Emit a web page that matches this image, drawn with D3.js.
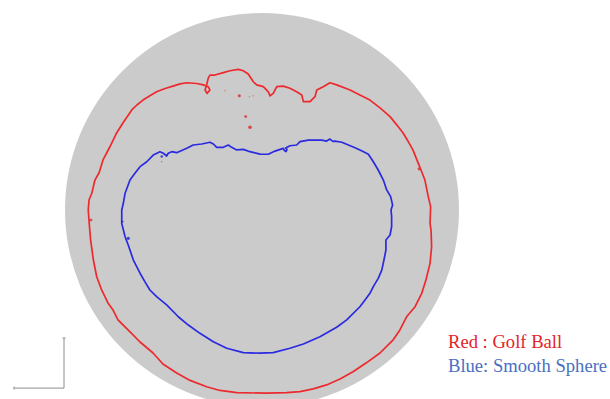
<!DOCTYPE html>
<html>
<head>
<meta charset="utf-8">
<script src="https://cdn.jsdelivr.net/npm/d3@7"></script>
<style>
  html, body { margin: 0; padding: 0; background: #ffffff; }
  svg { display: block; }
</style>
</head>
<body>
<svg id="chart" width="610" height="399"></svg>
<script>
// Cross-section coordinates, in percent of the ball radius, origin at the ball centre
// (x to the right, y upward).

// Golf ball separation contour (closed, clockwise from the left side)
const golfBallContour = [
  [-88.2, 0], [-87.8, 5.1], [-86.4, 8.5], [-84.8, 15.2], [-82.7, 18.9], [-80.7, 25.4],
  [-77.2, 32.1], [-73.8, 39.1], [-70.6, 44.2], [-66.1, 50.8], [-63.5, 53.3], [-60.4, 55.8],
  [-57.1, 57.9], [-53.5, 60.0], [-49.2, 61.7], [-45.2, 62.9], [-41.6, 64.0], [-38.2, 64.6],
  [-33.1, 64.2], [-29.8, 63.5], [-27.3, 62.6], [-26.4, 60.9],
  [-27.9, 59.2], [-28.9, 60.9], [-28.1, 63.5], [-27.3, 66.9], [-26.4, 68.5], [-23.9, 68.5],
  [-19.6, 69.7], [-16.2, 70.7], [-12.0, 71.4], [-9.5, 70.7], [-7.0, 69.0], [-4.4, 65.1],
  [-2.7, 63.5], [0.7, 62.6], [3.2, 60.0], [4.1, 57.9], [5.7, 59.2], [7.5, 62.6],
  [10.8, 62.9], [14.2, 61.8], [17.6, 60.0], [20.2, 58.4], [21.0, 55.0], [24.4, 55.0],
  [26.9, 57.5], [27.8, 60.9], [31.1, 62.6], [34.5, 64.6], [37.9, 63.5], [44.7, 60.9],
  [49.7, 58.4], [54.8, 55.8], [59.9, 51.8], [65.0, 47.4], [68.5, 43.1], [71.6, 39.1],
  [74.1, 35.0], [76.6, 30.5], [79.7, 22.8], [81.1, 19.3],
  [82.7, 15.2], [84.4, 6.8], [85.6, 1.7], [85.3, -6.8], [85.8, -10.2], [86.1, -18.6],
  [85.3, -27.1], [83.2, -35.5], [81.1, -42.3], [77.7, -49.1], [73.4, -54.2], [70.0, -60.9],
  [66.6, -65.9], [59.9, -72.6], [52.8, -77.7], [46.2, -82.1], [39.6, -85.8], [32.8, -88.8],
  [26.0, -90.8], [19.3, -92.2], [12.4, -92.7], [2.4, -93.0], [-12.8, -92.7], [-21.3, -91.6],
  [-28.1, -89.7], [-36.5, -86.5], [-43.3, -82.7], [-50.3, -78.2], [-55.3, -72.6], [-61.9, -67.0],
  [-68.0, -60.9], [-73.1, -55.8], [-75.6, -50.8], [-78.2, -47.2], [-81.4, -40.6], [-83.9, -33.9],
  [-85.6, -25.4], [-87.0, -15.2], [-87.7, -6.8]
];

// Isolated golf-ball fragments: [x, y, size]
const golfBallSpots = [
  [-18.8, 60.6, 0.6], [-11.5, 58.0, 1.1], [-6.4, 57.5, 0.6], [-4.4, 58.0, 0.6],
  [-8.3, 47.4, 1.0], [-6.1, 42.0, 1.3], [-86.8, -5.1, 1.0], [79.7, 20.8, 1.0]
];

// Smooth sphere separation contour (closed, clockwise from the left side)
const smoothSphereContour = [
  [-71.2, 0], [-70.4, 3.4], [-69.5, 8.5], [-67.0, 15.2], [-64.5, 18.6], [-61.9, 22.0],
  [-58.5, 24.5], [-55.2, 27.9], [-51.8, 29.6], [-50.1, 28.8], [-48.4, 27.4], [-47.6, 28.8],
  [-45.8, 29.6], [-43.3, 29.1], [-38.2, 31.3], [-34.9, 33.0], [-30.6, 33.5], [-26.4, 34.4],
  [-24.7, 33.5], [-23.0, 31.8], [-19.6, 31.8], [-17.1, 33.0], [-15.4, 31.8], [-12.8, 30.5],
  [-9.5, 30.8], [-6.1, 29.6], [-1.0, 28.4], [3.2, 28.3], [6.6, 29.9], [10.8, 31.3],
  [11.4, 30.2], [12.2, 29.7], [12.7, 30.7], [12.0, 31.5], [14.2, 32.6], [17.6, 33.0],
  [19.3, 34.7], [23.5, 35.5], [30.3, 35.5], [32.8, 35.0], [34.5, 36.0], [36.0, 34.8],
  [37.1, 35.0], [40.5, 34.4], [47.2, 31.6], [50.8, 29.9], [54.0, 28.3], [56.5, 24.5],
  [59.0, 20.3], [61.6, 15.2], [63.3, 10.2], [65.3, 6.8], [66.3, 2.5], [65.5, 0],
  [65.8, -3.4], [65.8, -8.5], [65.0, -12.7], [62.9, -15.2], [62.9, -20.3], [61.9, -25.4],
  [60.8, -30.5], [59.0, -34.7], [56.5, -38.9], [54.8, -42.3], [52.3, -45.7], [49.7, -49.1],
  [43.0, -55.8], [37.9, -59.5], [29.4, -64.3], [21.0, -68.0], [14.2, -70.2], [5.7, -72.4],
  [-1.0, -72.7], [-9.5, -72.4], [-17.9, -70.2], [-24.7, -66.9], [-31.5, -62.6], [-37.4, -58.4],
  [-42.5, -54.2], [-44.2, -52.4], [-48.4, -48.2], [-53.5, -44.0], [-56.9, -40.6], [-59.4, -36.5],
  [-61.9, -32.1], [-65.3, -25.4], [-67.9, -17.8], [-69.5, -13.6], [-71.2, -6.8]
];

// Isolated smooth-sphere fragments: [x, y, size]
const smoothSphereSpots = [
  [-50.9, 27.1, 0.9], [-50.9, 24.5, 0.5], [-70.7, -5.9, 0.7], [-67.9, -14.4, 1.2]
];

// Legend entries
const legendLabels = ["Red : Golf Ball", "Blue: Smooth Sphere"];
const legendColors = ["#e3242b", "#4a6fc2"];

const svg = d3.select("#chart");

const x = d3.scaleLinear().domain([-100, 100]).range([65, 459]);
const y = d3.scaleLinear().domain([-100, 100]).range([407, 13]);

// Ball cross-section
svg.append("circle")
  .attr("cx", x(0))
  .attr("cy", y(0))
  .attr("r", x(100) - x(0))
  .attr("fill", "#cbcbcb");

const line = d3.line()
  .x(d => x(d[0]))
  .y(d => y(d[1]))
  .curve(d3.curveLinearClosed);

svg.append("path")
  .datum(golfBallContour)
  .attr("d", line)
  .attr("fill", "none")
  .attr("stroke", "#ec2a2e")
  .attr("stroke-width", 1.7)
  .attr("stroke-linejoin", "round");

svg.selectAll("circle.gb-spot")
  .data(golfBallSpots)
  .join("circle")
  .attr("class", "gb-spot")
  .attr("cx", d => x(d[0]))
  .attr("cy", d => y(d[1]))
  .attr("r", d => d[2] * 1.4)
  .attr("fill", "#d83030")
  .attr("opacity", d => d[2] < 0.8 ? 0.4 : 0.85);

svg.append("path")
  .datum(smoothSphereContour)
  .attr("d", line)
  .attr("fill", "none")
  .attr("stroke", "#2a2ae0")
  .attr("stroke-width", 1.7)
  .attr("stroke-linejoin", "round");

svg.selectAll("circle.ss-spot")
  .data(smoothSphereSpots)
  .join("circle")
  .attr("class", "ss-spot")
  .attr("cx", d => x(d[0]))
  .attr("cy", d => y(d[1]))
  .attr("r", d => d[2] * 1.4)
  .attr("fill", "#2a2ad0")
  .attr("opacity", d => d[2] < 0.6 ? 0.5 : 0.85);

// Orientation glyph (x and y directions) at the lower left
const glyphOrigin = [x(-100.5), y(-90.4)];
const glyphLen = x(25.4) - x(0);
const glyph = svg.append("g").attr("stroke", "#8c8c8c").attr("stroke-width", 1);
glyph.append("line")
  .attr("x1", glyphOrigin[0]).attr("y1", glyphOrigin[1])
  .attr("x2", glyphOrigin[0]).attr("y2", glyphOrigin[1] - glyphLen);
glyph.append("line")
  .attr("x1", glyphOrigin[0]).attr("y1", glyphOrigin[1])
  .attr("x2", glyphOrigin[0] - glyphLen).attr("y2", glyphOrigin[1]);
glyph.append("line")
  .attr("x1", glyphOrigin[0] - 1.5).attr("y1", glyphOrigin[1] - glyphLen)
  .attr("x2", glyphOrigin[0] + 1.5).attr("y2", glyphOrigin[1] - glyphLen);
glyph.append("line")
  .attr("x1", glyphOrigin[0] - glyphLen).attr("y1", glyphOrigin[1] - 1.5)
  .attr("x2", glyphOrigin[0] - glyphLen).attr("y2", glyphOrigin[1] + 1.5);

// Legend
svg.selectAll("text.legend")
  .data(legendLabels)
  .join("text")
  .attr("class", "legend")
  .attr("x", 448)
  .attr("y", (d, i) => 348 + i * 24)
  .attr("font-family", "'Liberation Serif', 'Times New Roman', serif")
  .attr("font-size", 18.6)
  .attr("fill", (d, i) => legendColors[i])
  .text(d => d);
</script>
</body>
</html>
